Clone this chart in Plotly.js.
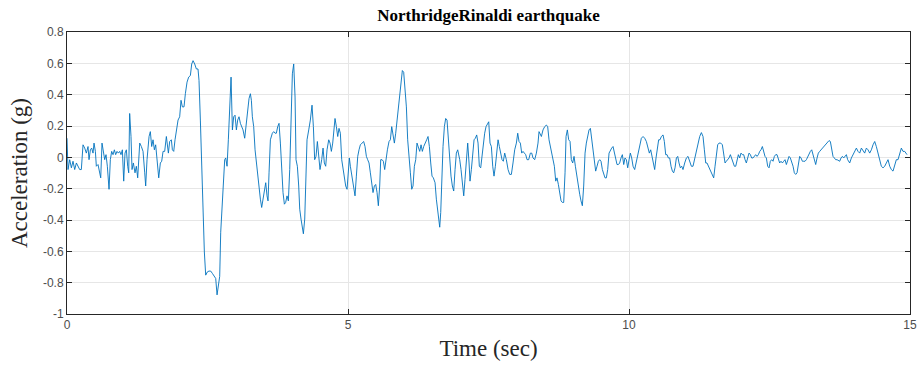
<!DOCTYPE html>
<html>
<head>
<meta charset="utf-8">
<script src="https://cdn.plot.ly/plotly-3.0.1.min.js"></script>
<style>html,body{margin:0;padding:0;background:#fff;}#chart{width:919px;height:366px;}</style>
</head>
<body>
<div id="chart"></div>
<script>
// Time (sec)
var timeSec = [
0.000,0.018,0.048,0.078,0.107,0.137,0.167,0.196,0.226,0.255,0.285,0.315,0.344,0.374,0.392,0.416,0.439,0.463,0.481,0.505,
0.522,0.552,0.582,0.600,0.623,0.647,0.671,0.694,0.718,0.748,0.771,0.795,0.819,0.843,0.866,0.890,0.914,0.938,0.961,0.985,
1.009,1.032,1.056,1.080,1.098,1.115,1.139,1.157,1.181,1.210,1.234,1.258,1.282,
1.294,1.323,1.353,1.383,1.400,1.424,1.460,1.483,1.507,1.531,1.555,1.578,1.602,1.632,1.661,1.685,1.709,1.738,1.768,1.786,
1.804,1.827,1.857,1.875,1.899,1.922,1.946,1.976,2.005,2.029,2.053,2.082,2.106,2.136,2.165,2.195,2.219,2.243,2.272,2.302,
2.331,2.349,2.373,2.397,2.420,2.444,2.468,2.498,2.527,2.557,2.587,2.616,2.646,2.670,2.693,
2.717,2.735,2.765,2.788,2.806,2.824,2.848,2.871,2.895,2.919,2.943,2.966,2.990,3.014,3.037,3.061,3.085,3.109,3.132,3.162,
3.192,3.215,3.239,3.263,3.281,3.298,3.322,3.346,3.370,3.393,3.417,3.441,3.464,3.488,3.512,3.536,3.559,3.577,3.595,3.619,
3.654,3.678,3.702,3.725,3.749,3.773,3.797,3.820,3.844,3.868,3.891,3.915,3.939,3.963,3.986,4.010,4.034,4.058,4.075,4.099,
4.123,4.141,
4.164,4.188,4.206,4.230,4.253,4.271,4.301,4.330,4.360,4.384,4.407,4.431,4.455,4.479,4.502,4.532,4.556,4.579,4.603,4.627,
4.657,4.680,4.704,4.728,4.751,4.769,4.793,4.817,4.840,4.864,4.888,4.912,4.935,4.959,4.983,5.006,5.024,5.042,5.066,5.090,
5.125,5.149,5.173,5.196,5.220,5.250,5.279,5.303,5.327,5.350,5.374,5.398,5.422,5.445,5.469,5.493,5.517,5.540,5.564,
5.582,5.606,5.629,5.653,5.677,5.701,5.730,5.754,5.778,5.801,5.825,5.849,5.873,5.896,5.920,5.944,5.967,5.991,6.015,6.039,
6.062,6.086,6.110,6.134,6.157,6.181,6.205,6.228,6.252,6.276,6.300,6.323,6.347,6.377,6.400,6.424,6.448,6.472,6.495,6.519,
6.549,6.572,6.596,6.614,6.632,6.650,6.667,6.691,6.715,6.738,6.762,6.786,6.810,6.833,6.857,6.881,6.905,6.928,6.952,6.976,
6.988,7.011,7.035,7.059,7.082,7.106,7.130,7.154,7.171,7.195,7.219,7.243,7.266,7.290,7.314,7.337,7.361,7.385,7.409,7.432,
7.456,7.480,7.504,7.527,7.551,7.575,7.598,7.622,7.646,7.670,7.693,7.717,7.741,7.764,7.788,7.818,7.848,7.877,7.907,7.936,
7.966,7.996,8.020,8.043,8.067,8.091,8.114,8.138,8.162,8.186,8.215,8.245,8.269,8.292,8.322,8.352,8.381,8.399,
8.411,8.441,8.470,8.500,8.530,8.553,8.577,8.601,8.625,8.648,8.672,8.696,8.719,8.743,8.767,8.791,8.814,8.838,8.862,8.880,
8.903,8.927,8.951,8.974,8.998,9.022,9.046,9.069,9.093,9.123,9.146,9.170,9.194,9.218,9.241,9.265,9.289,9.313,9.336,9.360,
9.384,9.407,9.431,9.455,9.479,9.502,9.526,9.550,9.573,9.597,9.621,9.645,9.668,9.692,9.716,9.740,9.763,9.787,9.811,9.834,
9.858,9.882,9.906,9.929,9.953,9.977,10.001,10.024,10.048,10.072,10.101,10.131,10.161,10.190,10.220,10.250,10.279,10.309,10.339,10.362,
10.386,10.410,10.434,10.457,10.481,10.505,10.528,10.552,10.576,10.606,10.629,10.653,10.677,10.700,10.724,10.748,10.772,10.795,10.819,10.843,
10.867,10.890,10.914,10.938,10.961,10.991,11.021,11.050,11.080,11.110,11.139,11.169,11.199,11.228,11.258,
11.288,11.317,11.341,11.365,11.388,11.412,11.436,11.460,11.483,11.507,11.531,11.555,11.578,11.602,11.632,11.661,11.685,11.709,11.732,11.756,
11.780,11.804,11.827,11.851,11.875,11.899,11.922,11.946,11.970,11.993,12.017,12.041,12.065,12.088,12.112,12.136,12.160,12.183,12.207,12.231,
12.254,12.278,12.302,12.326,12.349,12.373,12.397,12.420,12.444,12.468,12.492,12.515,12.539,12.563,12.587,12.610,12.634,12.658,12.681,
12.705,12.729,12.753,12.776,12.800,12.824,12.848,12.871,12.895,12.919,12.942,12.966,12.990,13.014,13.037,13.061,13.085,13.109,13.132,13.156,
13.180,13.203,13.227,13.251,13.275,13.298,13.322,13.346,13.369,13.393,13.417,13.441,13.464,13.488,13.512,13.536,13.559,13.583,13.607,13.630,
13.654,13.678,13.702,13.725,13.749,13.773,13.797,13.820,13.844,13.868,13.891,13.915,13.927,
13.957,13.986,14.016,14.046,14.075,14.105,14.135,14.164,14.194,14.224,14.253,14.283,14.313,14.342,14.372,14.401,14.431,14.461,14.490,14.520,
14.550,14.579,14.609,14.639,14.668,14.698,14.728,14.757,14.787,14.817,14.846,14.876,14.906,14.947
];
// Acceleration (g)
var accelG = [
0.122,-0.078,-0.015,-0.067,-0.025,-0.078,-0.036,-0.057,-0.078,-0.078,0.080,0.059,0.027,0.069,-0.015,0.048,0.059,0.027,0.091,0.038,
-0.057,-0.046,-0.099,-0.131,0.091,0.048,-0.015,0.017,-0.057,-0.204,-0.015,0.038,0.017,0.048,0.017,0.038,0.027,0.038,0.017,0.048,
-0.152,0.027,0.048,-0.057,-0.099,0.280,0.133,-0.078,-0.036,-0.099,-0.057,-0.131,0.048,
0.091,0.069,0.038,-0.099,-0.183,-0.015,0.133,0.164,0.069,0.112,0.048,0.080,-0.015,-0.131,-0.036,-0.025,0.038,0.038,0.133,0.091,
0.027,0.101,0.112,0.048,0.038,0.112,0.175,0.238,0.259,0.364,0.322,0.322,0.406,0.480,0.512,0.522,0.596,0.617,0.596,0.564,
0.564,0.491,0.238,-0.099,-0.352,-0.604,-0.752,-0.731,-0.726,-0.726,-0.741,-0.762,-0.773,-0.878,-0.815,
-0.760,-0.478,-0.267,-0.099,-0.015,-0.004,-0.057,0.112,0.364,0.512,0.175,0.259,0.269,0.175,0.238,0.259,0.217,0.196,0.175,0.122,
0.217,0.301,0.375,0.406,0.364,0.259,0.196,0.048,-0.036,-0.099,-0.204,-0.267,-0.320,-0.267,-0.215,-0.162,-0.246,-0.278,-0.099,0.112,
0.154,0.164,0.154,0.154,0.196,0.217,0.091,-0.099,-0.225,-0.299,-0.288,-0.246,-0.278,-0.078,0.301,0.533,0.596,0.385,-0.015,-0.057,
-0.183,-0.331,
-0.394,-0.457,-0.488,-0.394,-0.162,0.112,0.175,0.238,0.333,0.196,-0.015,0.006,0.101,0.006,-0.078,-0.015,0.059,-0.036,-0.057,0.048,
0.112,0.091,0.038,0.091,0.196,0.248,0.196,0.133,0.185,0.154,-0.015,-0.078,-0.141,-0.183,-0.204,-0.057,-0.004,-0.057,-0.120,-0.162,
-0.246,-0.120,0.006,0.048,0.080,0.091,0.101,0.069,0.006,-0.015,-0.036,-0.099,-0.183,-0.225,-0.183,-0.173,-0.225,-0.309,-0.183,
-0.015,-0.015,-0.025,-0.078,0.006,0.048,0.101,0.112,0.196,0.154,0.091,0.154,0.238,0.301,0.406,0.491,0.554,0.543,0.448,0.322,
0.112,0.027,-0.099,-0.204,-0.183,-0.057,-0.015,0.091,0.069,0.038,0.080,0.038,0.069,0.101,0.112,0.133,0.069,-0.036,-0.120,-0.131,
-0.162,-0.267,-0.331,-0.394,-0.446,-0.352,-0.162,0.069,0.196,0.248,0.238,0.091,-0.036,-0.120,-0.183,-0.215,-0.078,0.027,0.048,0.017,
-0.015,-0.078,-0.162,-0.246,-0.141,0.006,0.091,-0.036,-0.152,-0.078,0.027,0.112,0.122,0.143,0.091,-0.057,-0.067,0.006,0.101,0.154,
0.196,0.217,0.227,0.091,0.069,-0.057,-0.120,-0.057,0.027,0.112,0.069,0.017,-0.015,-0.025,0.027,-0.015,-0.078,-0.109,-0.109,-0.036,
0.048,0.091,0.154,0.101,0.091,0.027,0.038,0.027,0.017,-0.015,-0.015,0.027,0.027,-0.004,-0.015,0.027,0.091,0.164,
0.154,0.133,0.175,0.196,0.206,0.196,0.112,0.069,0.006,-0.015,-0.057,-0.152,-0.131,-0.173,-0.225,-0.278,-0.288,-0.288,-0.099,0.133,
0.175,0.112,0.101,-0.015,-0.036,0.006,-0.057,-0.120,-0.183,-0.236,-0.278,-0.309,-0.183,0.027,0.091,0.133,0.175,0.185,0.112,0.027,
-0.057,-0.088,-0.057,-0.025,-0.015,-0.025,-0.078,-0.099,-0.131,-0.131,-0.078,0.027,0.048,0.059,0.069,0.027,-0.025,-0.046,-0.046,-0.036,
-0.004,0.017,-0.046,-0.004,-0.015,-0.067,-0.015,0.027,-0.004,-0.057,-0.078,-0.025,0.038,0.091,0.122,0.133,0.122,0.101,0.059,0.027,
0.048,0.006,-0.015,-0.078,-0.004,0.069,0.112,0.112,0.133,0.143,0.101,0.017,0.017,-0.004,-0.004,-0.057,-0.088,-0.099,-0.067,-0.004,
0.006,-0.036,-0.067,-0.057,-0.078,-0.036,-0.004,0.006,-0.025,-0.057,-0.057,-0.004,0.038,0.101,0.133,
0.158,0.133,0.048,-0.036,-0.036,-0.057,-0.078,-0.099,-0.120,-0.131,-0.057,0.027,0.080,0.091,0.091,0.080,0.027,-0.036,-0.025,-0.015,
-0.004,0.017,-0.004,-0.036,-0.057,-0.057,-0.015,0.017,-0.004,0.027,0.017,0.017,-0.015,-0.036,-0.004,0.027,0.017,-0.004,-0.004,0.006,
0.017,0.006,0.017,0.038,0.048,0.069,0.027,0.006,-0.004,-0.057,-0.067,-0.025,-0.015,-0.025,0.006,0.017,0.017,-0.015,-0.036,
-0.025,-0.036,-0.025,-0.015,-0.046,-0.015,0.006,-0.004,-0.025,-0.057,-0.099,-0.109,-0.099,-0.025,0.006,-0.004,-0.025,-0.025,-0.025,-0.015,
0.006,0.027,0.038,0.048,0.017,-0.025,-0.046,-0.004,0.027,0.038,0.048,0.059,0.069,0.080,0.091,0.101,0.107,0.101,0.048,0.006,
-0.004,-0.015,-0.015,-0.021,-0.025,-0.004,0.006,-0.004,0.006,0.017,-0.015,-0.036,-0.036,
-0.004,0.017,0.038,0.059,0.038,0.027,0.059,0.038,0.027,0.059,0.048,0.027,0.048,0.080,0.101,0.069,0.027,-0.015,-0.057,-0.067,
-0.057,-0.036,-0.015,-0.057,-0.078,-0.088,-0.057,-0.015,-0.015,0.027,0.059,0.038,0.038,0.017
];

var xTickVals = [0, 5, 10, 15];
var xTickText = ['0', '5', '10', '15'];
var yTickVals = [-1, -0.8, -0.6, -0.4, -0.2, 0, 0.2, 0.4, 0.6, 0.8];
var yTickText = ['-1', '-0.8', '-0.6', '-0.4', '-0.2', '0', '0.2', '0.4', '0.6', '0.8'];

var trace = {
  x: timeSec, y: accelG, type: 'scatter', mode: 'lines',
  line: {color: '#0072BD', width: 0.9},
  hoverinfo: 'skip', showlegend: false
};

var axisCommon = {
  showline: true, linecolor: '#262626', linewidth: 1, mirror: 'ticks',
  ticks: 'inside', ticklen: 5, tickwidth: 1, tickcolor: '#262626',
  showgrid: true, gridcolor: '#e6e6e6', gridwidth: 1, zeroline: false,
  tickfont: {family: 'Liberation Sans, Arial, sans-serif', size: 12, color: '#4d4d4d'}
};

var layout = {
  width: 919, height: 366,
  margin: {l: 67, r: 9, t: 32, b: 52},
  paper_bgcolor: '#ffffff', plot_bgcolor: '#ffffff',
  showlegend: false,
  title: {
    text: '<b>NorthridgeRinaldi earthquake</b>',
    font: {family: 'Liberation Serif, Times New Roman, serif', size: 17, color: '#000'},
    x: 0.5, xref: 'paper', xanchor: 'center',
    y: 0.958, yref: 'container', yanchor: 'middle'
  },
  xaxis: Object.assign({}, axisCommon, {
    range: [0, 15], tickmode: 'array', tickvals: xTickVals, ticktext: xTickText,
    title: {text: 'Time (sec)', font: {family: 'Liberation Serif, Times New Roman, serif', size: 23, color: '#262626'}, standoff: 8}
  }),
  yaxis: Object.assign({}, axisCommon, {
    range: [-1, 0.8], tickmode: 'array', tickvals: yTickVals, ticktext: yTickText,
    title: {text: 'Acceleration (g)', font: {family: 'Liberation Serif, Times New Roman, serif', size: 23, color: '#262626'}, standoff: 8}
  })
};

Plotly.newPlot('chart', [trace], layout, {displayModeBar: false, staticPlot: true});
</script>
</body>
</html>
